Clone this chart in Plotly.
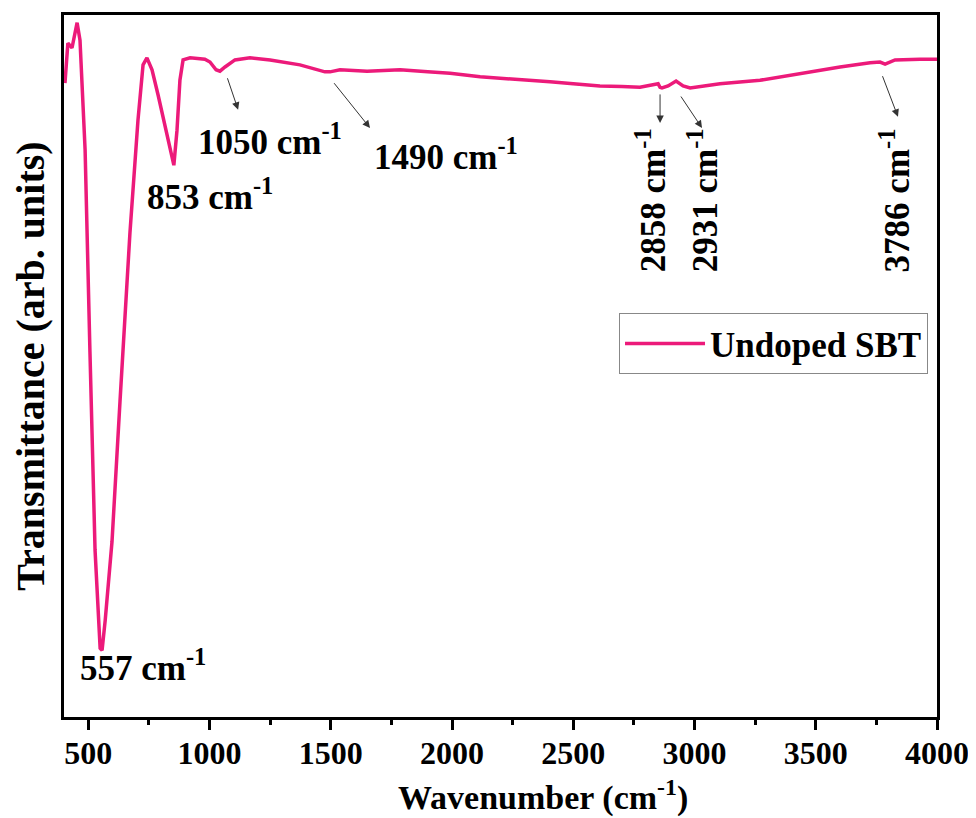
import plotly.graph_objects as go

wavenumber = [404, 416, 433, 454, 466, 487, 507, 528, 549, 557, 570, 581, 598, 631, 672, 705, 726, 742,
              763, 788, 817, 837, 853, 866, 878, 891, 920, 981, 1002, 1027, 1043, 1064, 1105, 1167, 1250,
              1373, 1476, 1497, 1538, 1650, 1786, 1900, 1992, 2116, 2250, 2404, 2500, 2610, 2700, 2775,
              2850, 2858, 2866, 2891, 2924, 2931, 2953, 2982, 3105, 3270, 3435, 3600, 3724, 3765, 3786,
              3827, 3930, 4000]
transmittance = [90.3, 96.0, 95.3, 98.9, 96.4, 80.8, 52.0, 23.8, 9.8, 9.5, 13.8, 18.0, 25.0, 45.0, 69.0,
                 85.0, 92.9, 93.9, 92.2, 88.6, 84.3, 81.5, 78.6, 83.6, 90.7, 93.6, 93.9, 93.7, 93.3, 92.2,
                 92.0, 92.6, 93.6, 93.9, 93.6, 92.9, 91.9, 91.9, 92.2, 92.0, 92.2, 91.9, 91.7, 91.2, 90.9,
                 90.5, 90.2, 89.9, 89.8, 89.7, 90.2, 89.7, 89.6, 89.9, 90.6, 90.4, 89.9, 89.6, 90.2, 90.7,
                 91.7, 92.6, 93.2, 93.3, 93.0, 93.6, 93.7, 93.7]

x_ticks = [500, 1000, 1500, 2000, 2500, 3000, 3500, 4000]
x_tick_labels = ["500", "1000", "1500", "2000", "2500", "3000", "3500", "4000"]
x_minor_ticks = [750, 1250, 1750, 2250, 2750, 3250, 3750]

# peak labels: (x, y, text, angle)
peak_labels = [
    (726, 7.4, "557", 0),
    (1002, 74.4, "853", 0),
    (1250, 82.2, "1050", 0),
    (1975, 80.1, "1490", 0),
    (2820, 73.6, "2858", -90),
    (3035, 73.6, "2931", -90),
    (3827, 73.6, "3786", -90),
]
# arrows: (head_x, head_y, tail_x, tail_y)
peak_arrows = [
    (1118, 86.5, 1072, 91.2),
    (1662, 83.9, 1509, 90.5),
    (2858, 84.6, 2858, 88.9),
    (3031, 83.9, 2940, 88.6),
    (3839, 85.5, 3773, 91.5),
]

FONT = "Liberation Serif"
COLOR = "#EC1A7A"

fig = go.Figure()
fig.add_trace(go.Scatter(x=wavenumber, y=transmittance, mode="lines", name="<b>Undoped SBT</b>",
                         line=dict(color=COLOR, width=3.5)))

for (x, y, label, angle) in peak_labels:
    fig.add_annotation(x=x, y=y, xref="x", yref="y", text="<b>" + label + " cm<sup>-1</sup></b>",
                       showarrow=False, textangle=angle,
                       font=dict(family=FONT, size=35, color="black"))

for (x, y, axx, ayy) in peak_arrows:
    fig.add_annotation(x=x, y=y, ax=axx, ay=ayy, xref="x", yref="y", axref="x", ayref="y",
                       text="", showarrow=True, arrowhead=2, arrowsize=1.5, arrowwidth=1,
                       arrowcolor="#333")

# x-axis title (placed as in the reference, slightly right of centre)
fig.add_annotation(x=0.549, y=-0.1125, xref="paper", yref="paper", xanchor="center", yanchor="middle",
                   text="<b>Wavenumber (cm<sup>-1</sup>)</b>", showarrow=False,
                   font=dict(family=FONT, size=34, color="black"))

fig.update_layout(
    width=976, height=818,
    margin=dict(l=56, r=47, t=7, b=109),
    paper_bgcolor="white", plot_bgcolor="white",
    font=dict(family=FONT, size=22, color="black"),
    showlegend=True,
    legend=dict(x=0.9897, y=0.575, xanchor="right", yanchor="top",
                bordercolor="#888", borderwidth=1, bgcolor="white",
                font=dict(family=FONT, size=35, color="black"),
                itemwidth=80, tracegroupgap=0),
    xaxis=dict(range=[400, 4000], tickvals=x_ticks, ticktext=["<b>" + t + "</b>" for t in x_tick_labels],
               ticks="outside", ticklen=10, tickwidth=3, tickcolor="black",
               showline=True, linewidth=3, linecolor="black", mirror=True,
               showgrid=False, zeroline=False, automargin=False, ticklabelstandoff=-4,
               tickfont=dict(family=FONT, size=32, color="black"),
               minor=dict(tickvals=x_minor_ticks, ticks="outside",
                          ticklen=5, tickwidth=3, tickcolor="black")),
    yaxis=dict(range=[0, 100], showticklabels=False, ticks="",
               showline=True, linewidth=3, linecolor="black", mirror=True,
               showgrid=False, zeroline=False, automargin=False,
               title=dict(text="<b>Transmittance (arb. units)</b>", standoff=10,
                          font=dict(family=FONT, size=40, color="black"))),
)

fig.write_html("out.html")
